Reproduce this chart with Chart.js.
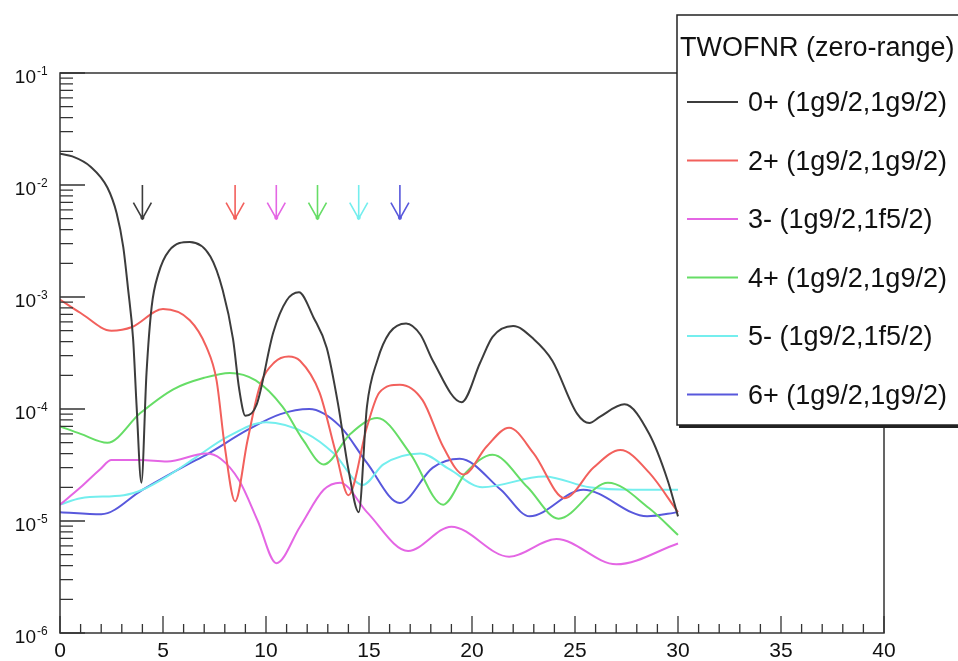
<!DOCTYPE html>
<html>
<head>
<meta charset="utf-8">
<script src="https://cdn.jsdelivr.net/npm/chart.js@4.4.0/dist/chart.umd.min.js"></script>
<style>
  html, body { margin: 0; padding: 0; background: #fff; }
  canvas { display: block; }
</style>
</head>
<body>
<canvas id="chart" width="958" height="661"></canvas>
<script>
// curves (x, cross section)
const x0p = [0, 0.6, 1.5, 2.3, 2.75, 3.07, 3.3, 3.55, 3.72, 3.95, 4.2, 4.45, 4.77, 5.3, 6.3, 7.3, 7.9, 8.4, 8.7, 9.0, 9.55, 10.35, 11.0, 11.6, 12.3, 12.95, 13.5, 14.0, 14.5, 14.9, 15.4, 16.0, 16.8, 17.5, 18.1, 19.5, 20.4, 21.0, 22.0, 23.0, 23.9, 25.1, 25.7, 26.2, 27.4, 28.6, 29.5, 30];
const y0p = [1.9e-2, 1.8e-2, 1.45e-2, 9.5e-3, 5.6e-3, 2.8e-3, 1.2e-3, 4.2e-4, 1.05e-4, 2.2e-5, 2.1e-4, 8.2e-4, 1.6e-3, 2.6e-3, 3.1e-3, 2.3e-3, 1.15e-3, 4.2e-4, 1.5e-4, 8.7e-5, 1.1e-4, 4.8e-4, 9.3e-4, 1.1e-3, 6.6e-4, 3.5e-4, 1.1e-4, 2.9e-5, 1.2e-5, 1.05e-4, 2.7e-4, 4.8e-4, 5.8e-4, 4.6e-4, 2.7e-4, 1.15e-4, 2.6e-4, 4.4e-4, 5.5e-4, 4.2e-4, 2.7e-4, 9.1e-5, 7.5e-5, 8.5e-5, 1.1e-4, 6e-5, 2.3e-5, 1.1e-5];

const x2p = [0, 1.0, 2.5, 3.5, 5.0, 6.3, 7.1, 7.6, 8.0, 8.5, 9.1, 9.7, 10.4, 11.1, 11.65, 12.6, 13.4, 14.0, 14.9, 15.5, 16.5, 17.6, 18.6, 19.6, 20.7, 21.8, 23.0, 24.5, 25.9, 27.2, 28.6, 30];
const y2p = [9.5e-4, 7.2e-4, 5e-4, 5.4e-4, 7.8e-4, 6.2e-4, 3.6e-4, 1.8e-4, 4.6e-5, 1.5e-5, 5.2e-5, 1.6e-4, 2.6e-4, 2.95e-4, 2.7e-4, 1.4e-4, 4e-5, 1.7e-5, 6.9e-5, 1.4e-4, 1.65e-4, 1.2e-4, 4.6e-5, 2.6e-5, 4.6e-5, 6.8e-5, 4e-5, 1.6e-5, 3e-5, 4.3e-5, 2.7e-5, 1.2e-5];

const x3m = [0, 1.0, 1.95, 2.5, 3.9, 5.2, 7.1, 7.8, 8.7, 9.6, 10.5, 11.65, 12.8, 13.6, 14.9, 16.9, 19.0, 21.8, 24.1, 27.0, 30];
const y3m = [1.4e-5, 2e-5, 2.9e-5, 3.5e-5, 3.5e-5, 3.4e-5, 4e-5, 3.6e-5, 2.3e-5, 1e-5, 4.2e-6, 8.9e-6, 1.9e-5, 2.2e-5, 1.2e-5, 5.4e-6, 8.9e-6, 4.8e-6, 6.9e-6, 4.1e-6, 6.3e-6];

const x4p = [0, 1.0, 2.3, 3.9, 5.5, 7.0, 8.25, 9.5, 10.8, 11.8, 12.8, 14.1, 15.4, 17.0, 18.6, 19.7, 21.0, 22.7, 24.2, 26.6, 28.6, 30];
const y4p = [7e-5, 6e-5, 5e-5, 9.2e-5, 1.5e-4, 1.9e-4, 2.1e-4, 1.8e-4, 1.05e-4, 5.3e-5, 3.2e-5, 6e-5, 8.3e-5, 4e-5, 1.4e-5, 2.7e-5, 3.9e-5, 2e-5, 1.05e-5, 2.2e-5, 1.3e-5, 7.5e-6];

const x5m = [0, 1.0, 3.1, 4.0, 5.2, 6.6, 8.1, 10.0, 12.0, 13.3, 14.7, 15.7, 17.5, 18.9, 20.5, 23.5, 25.7, 27.8, 30];
const y5m = [1.4e-5, 1.6e-5, 1.7e-5, 1.9e-5, 2.5e-5, 3.7e-5, 5.6e-5, 7.6e-5, 6e-5, 4e-5, 2.1e-5, 3.2e-5, 4e-5, 2.9e-5, 2e-5, 2.5e-5, 2e-5, 1.9e-5, 1.9e-5];

const x6p = [0, 2.0, 4.0, 6.2, 7.1, 9.1, 10.7, 12.1, 13.6, 14.9, 16.5, 18.1, 19.4, 21.4, 22.8, 25.4, 28.5, 30];
const y6p = [1.2e-5, 1.15e-5, 1.9e-5, 3.2e-5, 3.9e-5, 6.5e-5, 9e-5, 1e-4, 7e-5, 3.3e-5, 1.45e-5, 3e-5, 3.6e-5, 1.9e-5, 1.1e-5, 1.9e-5, 1.1e-5, 1.2e-5];

const seriesLabels = ['0+ (1g9/2,1g9/2)', '2+ (1g9/2,1g9/2)', '3- (1g9/2,1f5/2)', '4+ (1g9/2,1g9/2)', '5- (1g9/2,1f5/2)', '6+ (1g9/2,1g9/2)'];
const seriesX = [x0p, x2p, x3m, x4p, x5m, x6p];
const seriesY = [y0p, y2p, y3m, y4p, y5m, y6p];
const seriesColors = ['#3c3c3c', '#f2605c', '#e466e4', '#66dd66', '#74eeee', '#5858dc'];
const legendTitle = 'TWOFNR (zero-range)';

// arrows marking each multipole
const arrowX = [4, 8.5, 10.5, 12.5, 14.5, 16.5];
const arrowTop = 1e-2;
const arrowTip = 5e-3;

// axes
const xTicks = [0, 5, 10, 15, 20, 25, 30, 35, 40];
const yDecades = [-6, -5, -4, -3, -2, -1];

const datasets = seriesLabels.map((label, i) => ({
    label: label,
    data: seriesX[i].map((v, j) => ({ x: v, y: seriesY[i][j] })),
    borderColor: seriesColors[i],
    borderWidth: 2,
    pointRadius: 0,
    cubicInterpolationMode: 'monotone',
    fill: false,
}));

const FONT = '"Liberation Sans", Arial, Helvetica, sans-serif';

const decor = {
    id: 'decor',
    afterDatasetsDraw(chart) {
        const { ctx, chartArea: a, scales: { x, y } } = chart;
        ctx.save();

        // arrows
        ctx.lineWidth = 1.6;
        arrowX.forEach((v, i) => {
            const px = x.getPixelForValue(v);
            const top = y.getPixelForValue(arrowTop);
            const tip = y.getPixelForValue(arrowTip);
            ctx.strokeStyle = seriesColors[i];
            ctx.fillStyle = seriesColors[i];
            ctx.beginPath();
            ctx.moveTo(px, top);
            ctx.lineTo(px, tip);
            ctx.moveTo(px - 9, tip - 16);
            ctx.lineTo(px, tip);
            ctx.lineTo(px + 9, tip - 16);
            ctx.stroke();
            ctx.beginPath();
            ctx.arc(px, tip - 1, 2, 0, Math.PI * 2);
            ctx.fill();
        });

        // frame
        ctx.strokeStyle = '#333';
        ctx.lineWidth = 1.5;
        ctx.strokeRect(a.left, a.top, a.right - a.left, a.bottom - a.top);

        // y ticks, inside the frame
        ctx.lineWidth = 1.3;
        ctx.beginPath();
        yDecades.forEach(d => {
            const py = y.getPixelForValue(Math.pow(10, d));
            ctx.moveTo(a.left, py);
            ctx.lineTo(a.left + 25, py);
            if (d < -1) {
                for (let k = 2; k <= 9; k++) {
                    const pm = y.getPixelForValue(k * Math.pow(10, d));
                    ctx.moveTo(a.left, pm);
                    ctx.lineTo(a.left + 13, pm);
                }
            }
        });
        // x ticks
        for (let v = 0; v <= 40; v++) {
            const px = x.getPixelForValue(v);
            ctx.moveTo(px, a.bottom);
            ctx.lineTo(px, a.bottom - (v % 5 === 0 ? 17 : 9));
        }
        ctx.stroke();

        // tick labels
        ctx.fillStyle = '#111';
        ctx.textBaseline = 'alphabetic';
        ctx.textAlign = 'center';
        ctx.font = '21px ' + FONT;
        xTicks.forEach(v => {
            ctx.fillText(String(v), x.getPixelForValue(v), a.bottom + 24);
        });
        yDecades.forEach(d => {
            const py = y.getPixelForValue(Math.pow(10, d));
            ctx.textAlign = 'right';
            ctx.font = '19px ' + FONT;
            ctx.fillText('10', 36, py + 10);
            ctx.textAlign = 'left';
            ctx.font = '12px ' + FONT;
            ctx.fillText(String(d), 37, py + 2);
        });

        // legend box
        const lx = 677, ly = 15, lw = 300, lh = 410;
        ctx.fillStyle = '#fff';
        ctx.fillRect(lx, ly, lw, lh);
        ctx.strokeStyle = '#222';
        ctx.lineWidth = 1.5;
        ctx.strokeRect(lx, ly, lw, lh);
        ctx.fillStyle = '#222';
        ctx.fillRect(lx + 2, ly + lh, lw, 3);

        ctx.fillStyle = '#111';
        ctx.textAlign = 'left';
        ctx.font = '27px ' + FONT;
        ctx.fillText(legendTitle, 680, 56);
        seriesLabels.forEach((label, i) => {
            const cy = 102 + i * 58.5;
            ctx.strokeStyle = seriesColors[i];
            ctx.lineWidth = 2;
            ctx.beginPath();
            ctx.moveTo(687, cy);
            ctx.lineTo(738, cy);
            ctx.stroke();
            ctx.fillStyle = '#111';
            ctx.fillText(label, 748, cy + 9);
        });

        ctx.restore();
    }
};

new Chart(document.getElementById('chart'), {
    type: 'line',
    data: { datasets: datasets },
    options: {
        responsive: false,
        animation: false,
        devicePixelRatio: 1,
        layout: { padding: { left: 60, right: 74, top: 73, bottom: 28 } },
        scales: {
            x: { type: 'linear', min: 0, max: 40, display: false },
            y: { type: 'logarithmic', min: 1e-6, max: 1e-1, display: false },
        },
        plugins: {
            legend: { display: false },
            tooltip: { enabled: false },
        },
    },
    plugins: [decor],
});
</script>
</body>
</html>
